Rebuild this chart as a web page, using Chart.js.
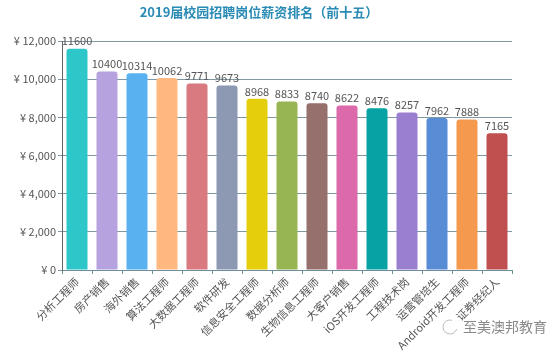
<!DOCTYPE html>
<html>
<head>
<meta charset="utf-8">
<script src="https://cdn.jsdelivr.net/npm/chart.js@4/dist/chart.umd.min.js"></script>
<style>
  html, body { margin: 0; padding: 0; background: #fff; }
  #wrap { width: 556px; height: 353px; position: relative; }
</style>
</head>
<body>
<div id="wrap"><canvas id="salaryChart" width="556" height="353"></canvas></div>
<script>
// categories and values
const jobs = ['分析工程师', '房产销售', '海外销售', '算法工程师', '大数据工程师', '软件研发', '信息安全工程师',
    '数据分析师', '生物信息工程师', '大客户销售', 'iOS开发工程师', '工程技术岗', '运营管培生', 'Android开发工程师', '证券经纪人'];
const salaries = [11600, 10400, 10314, 10062, 9771, 9673, 8968, 8833, 8740, 8622, 8476, 8257, 7962, 7888, 7165];
const barColors = ['#2ec7c9', '#b6a2de', '#5ab1ef', '#ffb980', '#d87a80', '#8d98b3', '#e5cf0d', '#97b552',
    '#95706d', '#dc69aa', '#07a2a4', '#9a7fd1', '#588dd5', '#f5994e', '#c05050'];
const yTickLabels = ['¥ 0', '¥ 2,000', '¥ 4,000', '¥ 6,000', '¥ 8,000', '¥ 10,000', '¥ 12,000'];
const chartTitle = '2019届校园招聘岗位薪资排名（前十五）';

const FONT = '"Noto Sans CJK SC", "Noto Sans", sans-serif';

// title, a bit left of the canvas centre like the original
const titleText = {
    id: 'titleText',
    afterDraw(chart) {
        const ctx = chart.ctx;
        ctx.save();
        ctx.font = 'bold 13px ' + FONT;
        ctx.fillStyle = '#2a8bb5';
        ctx.textAlign = 'center';
        ctx.textBaseline = 'middle';
        ctx.fillText(chartTitle, 259, 12);
        ctx.restore();
    }
};

// value labels above each bar
const valueLabels = {
    id: 'valueLabels',
    afterDatasetsDraw(chart) {
        const ctx = chart.ctx;
        const meta = chart.getDatasetMeta(0);
        ctx.save();
        ctx.font = '11px ' + FONT;
        ctx.fillStyle = '#555';
        ctx.textAlign = 'center';
        ctx.textBaseline = 'bottom';
        meta.data.forEach((bar, i) => {
            ctx.fillText(String(salaries[i]), bar.x, bar.y - 2);
        });
        ctx.restore();
    }
};

// watermark in the lower right corner
const watermark = {
    id: 'watermark',
    afterDraw(chart) {
        const ctx = chart.ctx;
        ctx.save();
        ctx.strokeStyle = '#bbb';
        ctx.lineWidth = 1;
        ctx.beginPath();
        ctx.arc(450, 327, 7, 0.3, Math.PI * 1.6);
        ctx.stroke();
        ctx.font = '14px ' + FONT;
        ctx.fillStyle = '#8a8a8a';
        ctx.textBaseline = 'middle';
        ctx.fillText('至美澳邦教育', 463, 327);
        ctx.restore();
    }
};

new Chart(document.getElementById('salaryChart'), {
    type: 'bar',
    data: {
        labels: jobs,
        datasets: [{
            data: salaries,
            backgroundColor: barColors,
            borderRadius: { topLeft: 3, topRight: 3 },
            borderSkipped: 'bottom',
            barPercentage: 0.7,
            categoryPercentage: 1
        }]
    },
    options: {
        responsive: false,
        animation: false,
        layout: { padding: { left: 0, right: 44, top: 41, bottom: 0 } },
        plugins: {
            legend: { display: false },
            tooltip: { enabled: false },
            title: { display: false }
        },
        scales: {
            x: {
                grid: { drawOnChartArea: false, drawTicks: true, tickLength: 4, color: '#6f8f9c' },
                border: { color: '#6f8f9c' },
                ticks: {
                    color: '#555',
                    font: { family: FONT, size: 11 },
                    minRotation: 45,
                    maxRotation: 45,
                    padding: 1
                },
                afterFit(scale) { scale.height = 83; }
            },
            y: {
                min: 0,
                max: 12000,
                ticks: {
                    stepSize: 2000,
                    color: '#555',
                    font: { family: FONT, size: 11 },
                    padding: 2,
                    callback: (v) => yTickLabels[v / 2000]
                },
                grid: { color: '#7f98a3', tickLength: 4 },
                border: { color: '#666' },
                afterFit(scale) { scale.width = 62; }
            }
        }
    },
    plugins: [titleText, valueLabels, watermark]
});
</script>
</body>
</html>
